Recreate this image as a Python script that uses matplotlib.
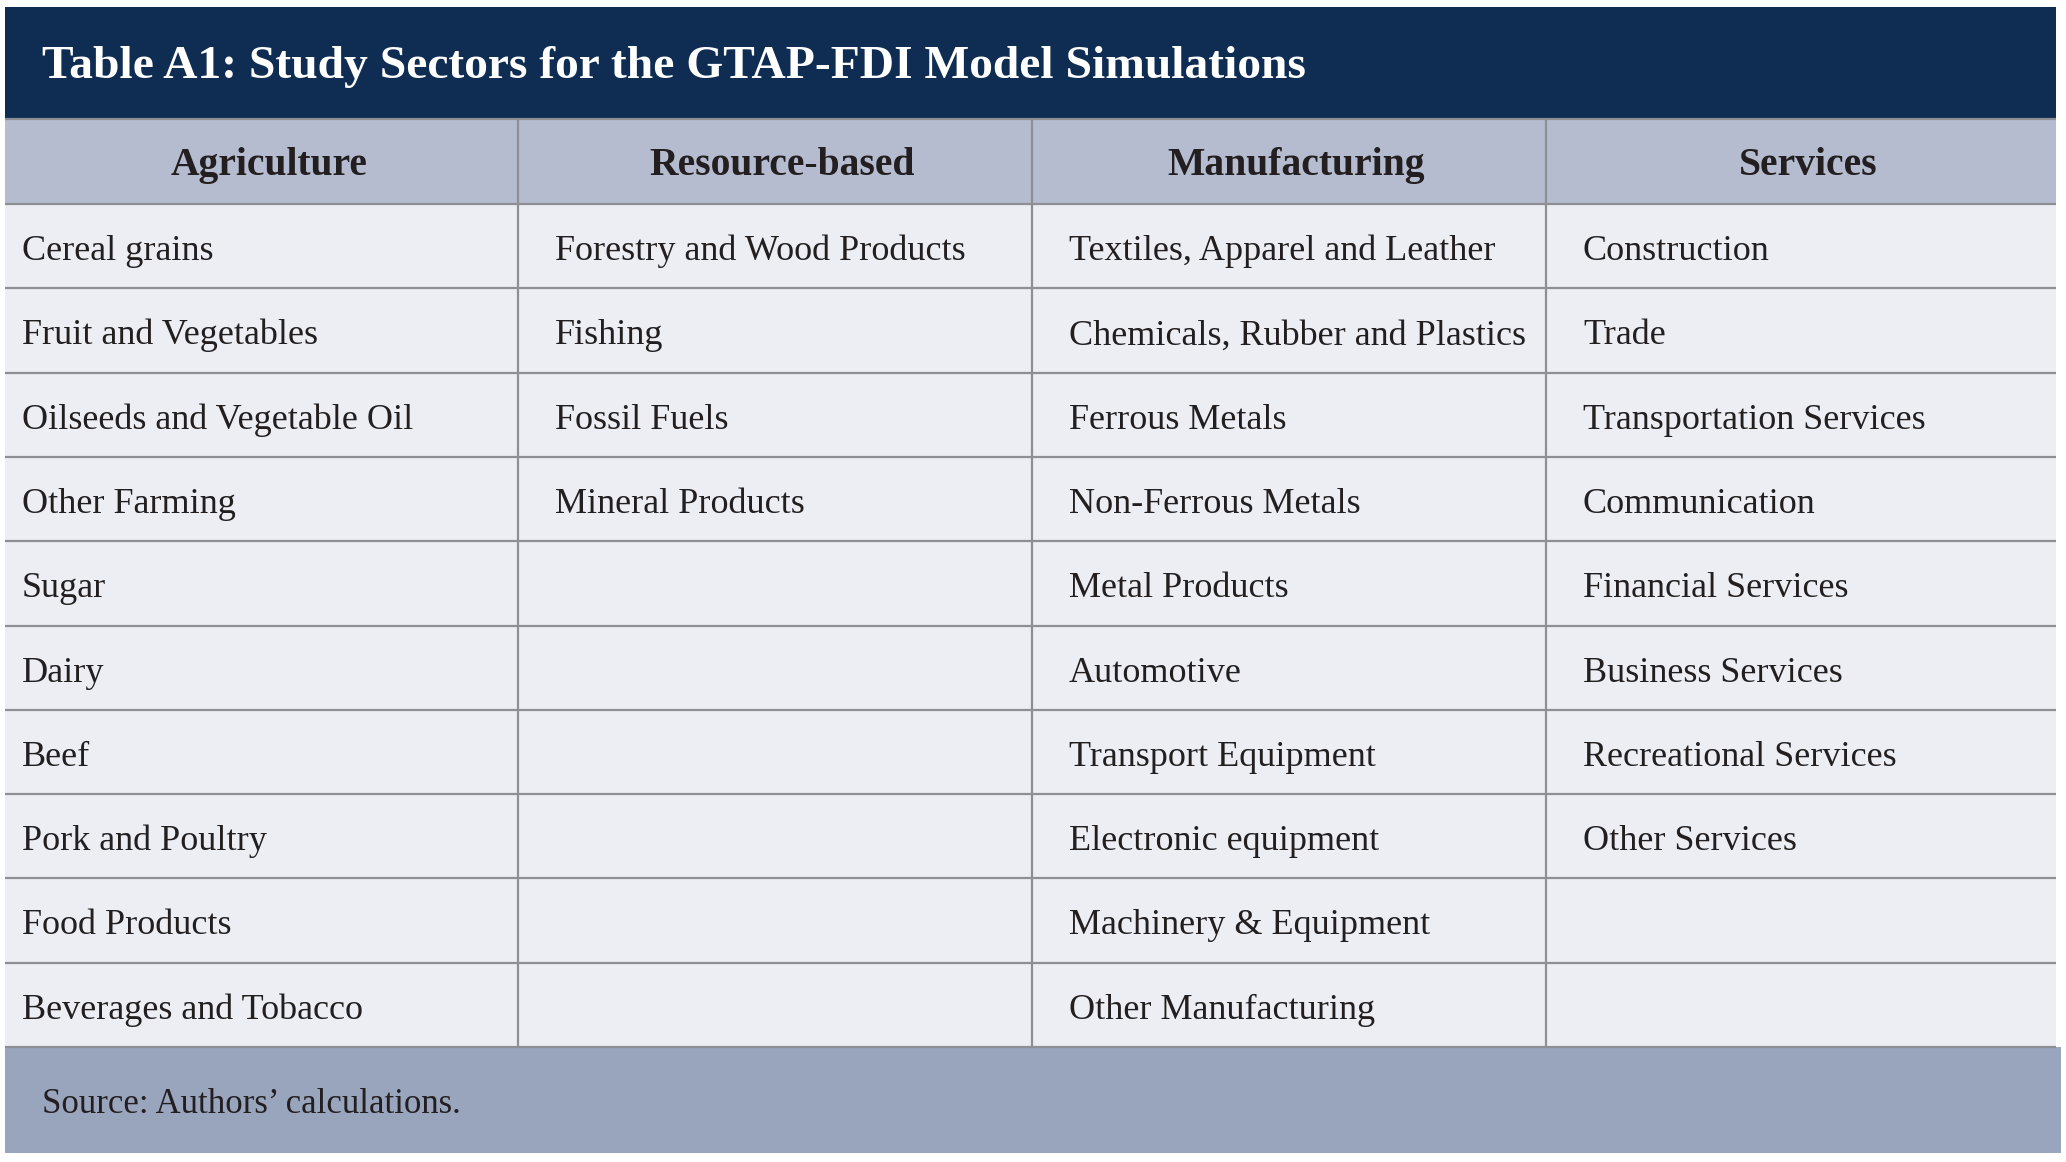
import matplotlib
matplotlib.use("Agg")
import matplotlib.pyplot as plt
from matplotlib.patches import Rectangle

# table content
title = "Table A1: Study Sectors for the GTAP-FDI Model Simulations"
headers = ["Agriculture", "Resource-based", "Manufacturing", "Services"]
agriculture = ["Cereal grains", "Fruit and Vegetables", "Oilseeds and Vegetable Oil",
               "Other Farming", "Sugar", "Dairy", "Beef", "Pork and Poultry",
               "Food Products", "Beverages and Tobacco"]
resource = ["Forestry and Wood Products", "Fishing", "Fossil Fuels", "Mineral Products"]
manufacturing = ["Textiles, Apparel and Leather", "Chemicals, Rubber and Plastics",
                 "Ferrous Metals", "Non-Ferrous Metals", "Metal Products", "Automotive",
                 "Transport Equipment", "Electronic equipment", "Machinery & Equipment",
                 "Other Manufacturing"]
services = ["Construction", "Trade", "Transportation Services", "Communication",
            "Financial Services", "Business Services", "Recreational Services",
            "Other Services"]
source = "Source: Authors\u2019 calculations."

columns = [agriculture, resource, manufacturing, services]
n_rows = max(len(c) for c in columns)

# colours
navy = "#0f2c53"
head_bg = "#b5bccf"
cell_bg = "#edeef3"
foot_bg = "#99a5bd"
line_c = "#8e8f93"
txt_c = "#231f20"

plt.rcParams['font.family'] = ['Liberation Serif', 'DejaVu Serif']

W, H = 2066, 1162
fig = plt.figure(figsize=(W / 100, H / 100), dpi=100)
ax = fig.add_axes([0, 0, 1, 1])
ax.set_xlim(0, W)
ax.set_ylim(H, 0)
ax.axis("off")

# layout (pixels)
x0, x1 = 5, 2056
title_top, title_bot = 6.5, 118.5
head_bot = 204
row_h = 84.3
table_bot = head_bot + n_rows * row_h
foot_bot = 1153
col_x = [x0, 518, 1032, 1546, x1]

# backgrounds
ax.add_patch(Rectangle((x0, title_top), x1 - x0, title_bot - title_top, color=navy, lw=0))
ax.add_patch(Rectangle((x0, title_bot), x1 - x0, head_bot - title_bot, color=head_bg, lw=0))
ax.add_patch(Rectangle((x0, head_bot), x1 - x0, table_bot - head_bot, color=cell_bg, lw=0))
ax.add_patch(Rectangle((x0, table_bot), x1 - x0 + 5, foot_bot - table_bot, color=foot_bg, lw=0))

# grid lines
lw = 1.6
ax.plot([x0, x1], [title_bot, title_bot], color=line_c, lw=lw, solid_capstyle="butt")
for r in range(n_rows + 1):
    y = head_bot + r * row_h
    ax.plot([x0, x1], [y, y], color=line_c, lw=lw, solid_capstyle="butt")
for cx in col_x[1:-1]:
    ax.plot([cx, cx], [title_bot, table_bot], color=line_c, lw=lw, solid_capstyle="butt")

# title
ax.text(x0 + 37, (title_top + title_bot) / 2 + 5, title, color="white",
        fontsize=34.2, fontweight="bold", va="center", ha="left")

# headers
for i, h in enumerate(headers):
    ax.text((col_x[i] + col_x[i + 1]) / 2 + 7.5, (title_bot + head_bot) / 2 + 4, h,
            color=txt_c, fontsize=28.5, fontweight="bold", va="center", ha="center")

# body
for i, col in enumerate(columns):
    pad = 17 if i == 0 else 37
    for r, item in enumerate(col):
        y = head_bot + r * row_h + 0.665 * row_h
        ax.text(col_x[i] + pad, y, item, color=txt_c, fontsize=26,
                va="baseline", ha="left")

# footer
ax.text(42, 1113, source, color=txt_c, fontsize=25, va="baseline", ha="left")

fig.savefig("out.png", dpi=100, facecolor="white")
